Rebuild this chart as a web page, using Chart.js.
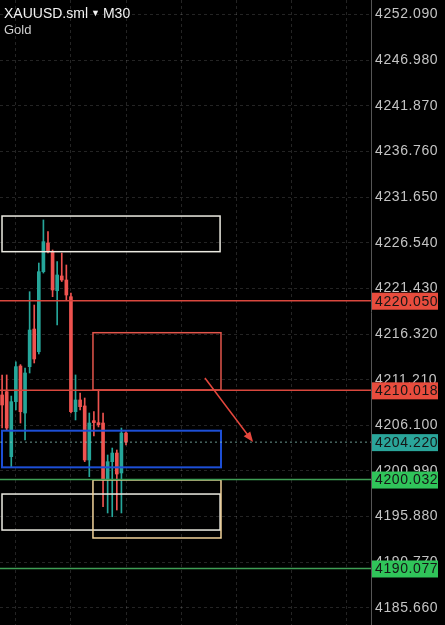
<!DOCTYPE html>
<html lang="en">
<head>
    <meta charset="UTF-8">
    <title>XAUUSD.sml M30</title>
    <script src="https://cdn.jsdelivr.net/npm/chart.js@4.4.1/dist/chart.umd.min.js"></script>
    <style>
        body{ margin:0; background:#000; }
        #wrap{ position:relative; width:445px; height:625px; }
        #sym{ position:absolute; left:4px; top:5px; color:#f2f2f2; font:14px "Liberation Sans", Roboto, sans-serif; }
        #sym span{ font-size:9px; vertical-align:2px; margin:0 3px; }
        #name{ position:absolute; left:4px; top:22px; color:#cfcfcf; font:13px "Liberation Sans", Roboto, sans-serif; }
    </style>
</head>
<body>
<div id="wrap">
    <canvas id="myChart" width="445" height="625"></canvas>
    <div id="sym">XAUUSD.sml<span>&#9660;</span>M30</div>
    <div id="name">Gold</div>
</div>
<script>
// candles, M30 bars, oldest first
var opens  = [4209.50, 4209.87, 4202.59, 4208.75, 4212.74, 4207.48, 4212.67, 4216.88, 4214.34, 4223.30,
              4226.51, 4225.54, 4221.17, 4222.82, 4222.37, 4220.50, 4207.63, 4208.94, 4208.27, 4202.22,
              4206.62, 4206.40, 4206.36, 4200.09, 4202.03, 4203.00, 4200.77, 4205.24];
var highs  = [4211.74, 4211.74, 4209.38, 4213.22, 4212.90, 4212.52, 4221.06, 4219.57, 4224.27, 4229.09,
              4227.78, 4225.73, 4224.42, 4225.39, 4224.05, 4220.91, 4211.74, 4209.72, 4209.16, 4207.48,
              4207.63, 4210.06, 4207.48, 4202.78, 4203.56, 4203.34, 4205.80, 4205.39];
var lows   = [4205.80, 4205.58, 4201.44, 4207.82, 4206.36, 4204.46, 4211.96, 4213.08, 4214.09, 4223.15,
              4225.39, 4220.50, 4217.33, 4222.20, 4220.13, 4207.48, 4206.70, 4207.82, 4202.03, 4200.35,
              4204.91, 4205.92, 4197.00, 4196.29, 4195.87, 4196.62, 4196.29, 4203.90];
var closes = [4208.38, 4205.80, 4208.75, 4212.67, 4207.63, 4211.96, 4216.77, 4213.53, 4223.30, 4226.66,
              4225.65, 4221.25, 4222.93, 4222.37, 4220.69, 4207.63, 4208.94, 4208.19, 4202.22, 4206.36,
              4206.40, 4206.17, 4199.98, 4202.03, 4203.00, 4200.65, 4205.24, 4204.22];

var yTicks = [4252.090, 4246.980, 4241.870, 4236.760, 4231.650, 4226.540, 4221.430,
              4216.320, 4211.210, 4206.100, 4200.990, 4195.880, 4190.770, 4185.660];
var xGrid = [3, 15, 27, 39, 51, 63, 75];

var redLevels = [4220.050, 4210.018];
var greenLevels = [4200.032, 4190.077];
var lastPrice = 4204.220;

// drawn zones: bar index from/to, price low/high
var zoneKind = ['white', 'red', 'blue', 'white', 'yellow'];
var zoneFrom = [-0.02, 19.8, -0.02, -0.02, 19.8];
var zoneTo   = [47.5, 47.7, 47.7, 47.5, 47.7];
var zoneLow  = [4225.54, 4210.06, 4201.40, 4194.38, 4193.49];
var zoneHigh = [4229.53, 4216.47, 4205.50, 4198.41, 4199.98];

var arrowFrom = [44.2, 4211.40];
var arrowTo = [54.7, 4204.23];

var up = '#26a69a', down = '#ef5350';
var zoneColor = { white: '#ecebe2', red: '#e2554b', blue: '#1d4fd6', yellow: '#f2d39a' };

var wickData = lows.map(function (l, i) { return { x: i, y: [l, highs[i]] }; });
var bodyData = opens.map(function (o, i) { return { x: i, y: [Math.min(o, closes[i]), Math.max(o, closes[i])] }; });
var candleColor = opens.map(function (o, i) { return closes[i] >= o ? up : down; });

function tagLabel(ctx, area, y, text, bg) {
    ctx.fillStyle = bg;
    ctx.fillRect(area.right + 1, y - 8, 66, 17);
    ctx.fillStyle = '#151515';
    ctx.font = '14px "Liberation Sans", Roboto, sans-serif';
    ctx.textBaseline = 'middle';
    ctx.textAlign = 'left';
    ctx.fillText(text, area.right + 4, y + 1);
}

var overlay = {
    id: 'overlay',
    beforeDraw: function (chart) {
        chart.ctx.letterSpacing = '0.6px';
    },
    afterDatasetsDraw: function (chart) {
        var ctx = chart.ctx, xs = chart.scales.x, ys = chart.scales.y, a = chart.chartArea;
        ctx.save();
        // zones
        zoneKind.forEach(function (k, i) {
            var x0 = xs.getPixelForValue(zoneFrom[i]), x1 = xs.getPixelForValue(zoneTo[i]);
            var y0 = ys.getPixelForValue(zoneHigh[i]), y1 = ys.getPixelForValue(zoneLow[i]);
            ctx.strokeStyle = zoneColor[k];
            ctx.lineWidth = k == 'blue' ? 2 : 1.5;
            ctx.strokeRect(x0, y0, x1 - x0, y1 - y0);
        });
        // horizontal levels
        ctx.lineWidth = 1.5;
        redLevels.forEach(function (p) {
            var y = ys.getPixelForValue(p);
            ctx.strokeStyle = '#d9483e';
            ctx.beginPath(); ctx.moveTo(a.left, y); ctx.lineTo(a.right, y); ctx.stroke();
        });
        greenLevels.forEach(function (p) {
            var y = ys.getPixelForValue(p);
            ctx.strokeStyle = '#3f9e55';
            ctx.beginPath(); ctx.moveTo(a.left, y); ctx.lineTo(a.right, y); ctx.stroke();
        });
        var yl = ys.getPixelForValue(lastPrice);
        ctx.strokeStyle = 'rgba(140,200,190,0.75)';
        ctx.lineWidth = 1;
        ctx.setLineDash([2, 3]);
        ctx.beginPath(); ctx.moveTo(a.left, yl); ctx.lineTo(a.right, yl); ctx.stroke();
        ctx.setLineDash([]);
        // arrow
        var ax0 = xs.getPixelForValue(arrowFrom[0]), ay0 = ys.getPixelForValue(arrowFrom[1]);
        var ax1 = xs.getPixelForValue(arrowTo[0]), ay1 = ys.getPixelForValue(arrowTo[1]);
        var ang = Math.atan2(ay1 - ay0, ax1 - ax0);
        ctx.strokeStyle = '#e5473d';
        ctx.fillStyle = '#e5473d';
        ctx.lineWidth = 1.5;
        ctx.beginPath(); ctx.moveTo(ax0, ay0); ctx.lineTo(ax1 - 6 * Math.cos(ang), ay1 - 6 * Math.sin(ang)); ctx.stroke();
        ctx.beginPath();
        ctx.moveTo(ax1, ay1);
        ctx.lineTo(ax1 - 11 * Math.cos(ang - 0.38), ay1 - 11 * Math.sin(ang - 0.38));
        ctx.lineTo(ax1 - 11 * Math.cos(ang + 0.38), ay1 - 11 * Math.sin(ang + 0.38));
        ctx.closePath(); ctx.fill();
        ctx.restore();
    },
    afterDraw: function (chart) {
        var ctx = chart.ctx, ys = chart.scales.y, a = chart.chartArea;
        ctx.save();
        ctx.strokeStyle = '#555';
        ctx.lineWidth = 1;
        ctx.beginPath(); ctx.moveTo(a.right + 0.5, 0); ctx.lineTo(a.right + 0.5, chart.height); ctx.stroke();
        redLevels.forEach(function (p) { tagLabel(ctx, a, ys.getPixelForValue(p), p.toFixed(3), '#e84c3d'); });
        tagLabel(ctx, a, ys.getPixelForValue(lastPrice), lastPrice.toFixed(3), '#2aa59a');
        greenLevels.forEach(function (p) { tagLabel(ctx, a, ys.getPixelForValue(p), p.toFixed(3), '#30c45a'); });
        ctx.restore();
    }
};

var ctx = document.getElementById('myChart').getContext('2d');
var myChart = new Chart(ctx, {
    type: 'bar',
    data: {
        datasets: [{
            data: wickData,
            backgroundColor: candleColor,
            barThickness: 1,
            grouped: false
        }, {
            data: bodyData,
            backgroundColor: candleColor,
            barThickness: 3,
            minBarLength: 1,
            grouped: false
        }]
    },
    options: {
        responsive: false,
        animation: false,
        devicePixelRatio: 1,
        layout: { padding: 0 },
        plugins: { legend: { display: false }, tooltip: { enabled: false } },
        scales: {
            x: {
                type: 'linear',
                min: -0.458,
                max: 80.39,
                offset: false,
                grid: { offset: false, color: 'rgba(255,255,255,0.14)', drawTicks: false },
                border: { display: false, dash: [3, 3] },
                ticks: { display: false },
                afterBuildTicks: function (scale) {
                    scale.ticks = xGrid.map(function (v) { return { value: v }; });
                },
                afterFit: function (scale) {
                    scale.height = 0;
                    scale.paddingLeft = 0; scale.paddingRight = 0;
                }
            },
            y: {
                position: 'right',
                min: 4183.75,
                max: 4253.713,
                beginAtZero: false,
                grid: { color: 'rgba(255,255,255,0.14)', drawTicks: false },
                border: { display: false, dash: [3, 3] },
                ticks: {
                    color: '#c4c4c4',
                    padding: 4,
                    font: { family: '"Liberation Sans", Roboto, sans-serif', size: 14 },
                    callback: function (v) { return v.toFixed(3); }
                },
                afterBuildTicks: function (scale) {
                    scale.ticks = yTicks.map(function (v) { return { value: v }; });
                },
                afterFit: function (scale) {
                    scale.width = 74;
                    scale.paddingTop = 0; scale.paddingBottom = 0;
                }
            }
        }
    },
    plugins: [overlay]
});
</script>
</body>
</html>
